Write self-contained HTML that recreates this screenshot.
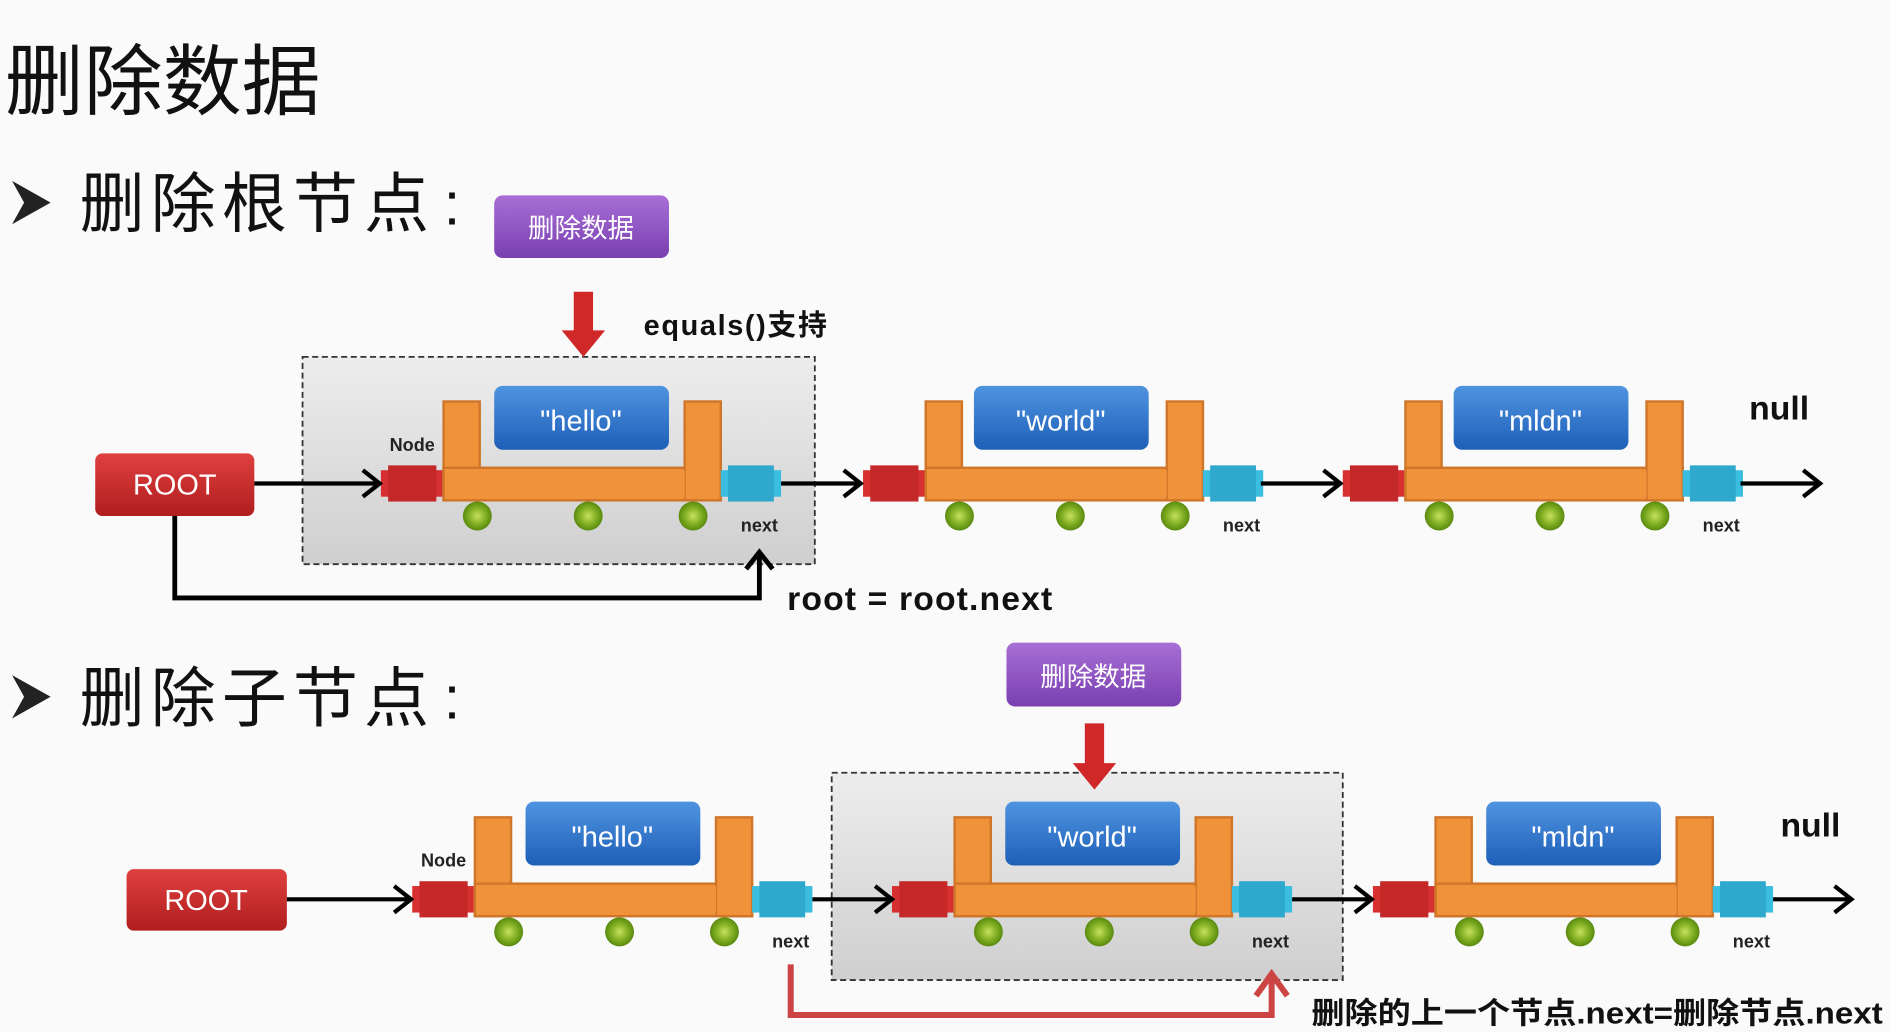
<!DOCTYPE html>
<html><head><meta charset="utf-8"><style>
html,body{margin:0;padding:0;background:#fafafa;}
svg{display:block;}
text{font-family:"Liberation Sans","Noto Sans CJK SC",sans-serif;}
</style></head><body>
<svg width="1890" height="1032" viewBox="0 0 1568 856" xmlns="http://www.w3.org/2000/svg">
<defs>
<linearGradient id="blue" x1="0" y1="0" x2="0" y2="1"><stop offset="0" stop-color="#4f94e0"/><stop offset="1" stop-color="#1e5fb8"/></linearGradient>
<linearGradient id="purp" x1="0" y1="0" x2="0" y2="1"><stop offset="0" stop-color="#a86fd6"/><stop offset="1" stop-color="#7a3fb0"/></linearGradient>
<linearGradient id="redb" x1="0" y1="0" x2="0" y2="1"><stop offset="0" stop-color="#e04040"/><stop offset="1" stop-color="#b01e1e"/></linearGradient>
<linearGradient id="gray" x1="0" y1="0" x2="0" y2="1"><stop offset="0" stop-color="#ededed"/><stop offset="1" stop-color="#cfcfcf"/></linearGradient>
<radialGradient id="ball"><stop offset="0" stop-color="#c8e060"/><stop offset="0.6" stop-color="#7fae22"/><stop offset="1" stop-color="#5a8a10"/></radialGradient>
<g id="node">
<rect x="316" y="390" width="52" height="22" fill="#d83030"/>
<rect x="322" y="386" width="40" height="30" fill="#c42828"/>
<rect x="368" y="333" width="30" height="82" fill="#f0923a" stroke="#d0762a" stroke-width="2"/>
<rect x="368" y="388" width="230" height="27" fill="#f0923a" stroke="#d0762a" stroke-width="2"/>
<rect x="568" y="333" width="30" height="82" fill="#f0923a" stroke="#d0762a" stroke-width="2"/>
<rect x="398" y="390" width="170" height="23" fill="#f0923a"/>
<rect x="598" y="390" width="50" height="22" fill="#3bbde0"/>
<rect x="604" y="386" width="38" height="30" fill="#2ea8cc"/>
<circle cx="396" cy="428" r="12" fill="url(#ball)"/>
<circle cx="488" cy="428" r="12" fill="url(#ball)"/>
<circle cx="575" cy="428" r="12" fill="url(#ball)"/>
<text x="630" y="441" font-size="15" font-weight="bold" text-anchor="middle" fill="#222">next</text>
</g>
<path id="ahd" d="M-14,-11 L0,0 L-14,11" fill="none" stroke="#000" stroke-width="3.5"/>
</defs>

<text x="4" y="90" font-size="64" fill="#111" textLength="262" lengthAdjust="spacingAndGlyphs">删除数据</text>
<path d="M10,150 L42,168 L10,186 L20,168z" fill="#222"/>
<text x="66" y="188" font-size="54" fill="#111" textLength="290">删除根节点</text>
<text x="368" y="186" font-size="50" fill="#111">:</text>
<path d="M10,560 L42,578 L10,596 L20,578z" fill="#222"/>
<text x="66" y="598" font-size="54" fill="#111" textLength="290">删除子节点</text>
<text x="368" y="596" font-size="50" fill="#111">:</text>

<!-- Row 1 -->
<rect x="251" y="296" width="425" height="172" fill="url(#gray)" stroke="#333" stroke-width="1.5" stroke-dasharray="5,3"/>
<rect x="410" y="162" width="145" height="52" rx="7" fill="url(#purp)"/>
<text x="482" y="197" font-size="22" fill="#fff" text-anchor="middle">删除数据</text>
<path d="M476,242 h16 v32 h10 l-18,22 l-18,-22 h10z" fill="#d02828"/>
<text x="534" y="278" font-size="24" font-weight="bold" fill="#111" textLength="152">equals()支持</text>
<rect x="79" y="376" width="132" height="52" rx="6" fill="url(#redb)"/>
<text x="145" y="410" font-size="24" fill="#fff" text-anchor="middle">ROOT</text>
<text x="342" y="374" font-size="15" font-weight="bold" text-anchor="middle" fill="#222">Node</text>
<use href="#node"/>
<use href="#node" transform="translate(400,0)"/>
<use href="#node" transform="translate(798,0)"/>
<g fill="url(#blue)">
<rect x="410" y="320" width="145" height="53" rx="7"/>
<rect x="808" y="320" width="145" height="53" rx="7"/>
<rect x="1206" y="320" width="145" height="53" rx="7"/>
</g>
<g font-size="24" fill="#fff" text-anchor="middle">
<text x="482" y="357">"hello"</text><text x="880" y="357">"world"</text><text x="1278" y="357">"mldn"</text>
</g>
<g stroke="#000" stroke-width="3.5" fill="none">
<line x1="211" y1="401" x2="314" y2="401"/>
<line x1="648" y1="401" x2="714" y2="401"/>
<line x1="1046" y1="401" x2="1112" y2="401"/>
<line x1="1444" y1="401" x2="1508" y2="401"/>
</g>
<use href="#ahd" transform="translate(315,401)"/>
<use href="#ahd" transform="translate(714,401)"/>
<use href="#ahd" transform="translate(1112,401)"/>
<use href="#ahd" transform="translate(1510,401)"/>
<text x="1476" y="348" font-size="28" font-weight="bold" text-anchor="middle" fill="#111">null</text>
<path d="M145,428 V496 H630 V460" fill="none" stroke="#000" stroke-width="4"/>
<path d="M619,472 L630,458 L641,472" fill="none" stroke="#000" stroke-width="4"/>
<text x="653" y="506" font-size="28" font-weight="bold" fill="#111" textLength="220">root = root.next</text>

<!-- Row 2 -->
<rect x="690" y="641" width="424" height="172" fill="url(#gray)" stroke="#333" stroke-width="1.5" stroke-dasharray="5,3"/>
<rect x="835" y="533" width="145" height="53" rx="7" fill="url(#purp)"/>
<text x="907" y="569" font-size="22" fill="#fff" text-anchor="middle">删除数据</text>
<path d="M900,600 h16 v33 h10 l-18,22 l-18,-22 h10z" fill="#d02828"/>
<rect x="105" y="721" width="133" height="51" rx="6" fill="url(#redb)"/>
<text x="171" y="755" font-size="24" fill="#fff" text-anchor="middle">ROOT</text>
<text x="368" y="719" font-size="15" font-weight="bold" text-anchor="middle" fill="#222">Node</text>
<use href="#node" transform="translate(26,345)"/>
<use href="#node" transform="translate(424,345)"/>
<use href="#node" transform="translate(823,345)"/>
<g fill="url(#blue)">
<rect x="436" y="665" width="145" height="53" rx="7"/>
<rect x="834" y="665" width="145" height="53" rx="7"/>
<rect x="1233" y="665" width="145" height="53" rx="7"/>
</g>
<g font-size="24" fill="#fff" text-anchor="middle">
<text x="508" y="702">"hello"</text><text x="906" y="702">"world"</text><text x="1305" y="702">"mldn"</text>
</g>
<g stroke="#000" stroke-width="3.5" fill="none">
<line x1="238" y1="746" x2="340" y2="746"/>
<line x1="674" y1="746" x2="738" y2="746"/>
<line x1="1072" y1="746" x2="1137" y2="746"/>
<line x1="1471" y1="746" x2="1534" y2="746"/>
</g>
<use href="#ahd" transform="translate(341,746)"/>
<use href="#ahd" transform="translate(740,746)"/>
<use href="#ahd" transform="translate(1138,746)"/>
<use href="#ahd" transform="translate(1536,746)"/>
<text x="1502" y="694" font-size="28" font-weight="bold" text-anchor="middle" fill="#111">null</text>
<path d="M656,800 V842 H1055 V812" fill="none" stroke="#cc4444" stroke-width="5"/>
<path d="M1042,826 L1055,808 L1068,826" fill="none" stroke="#cc4444" stroke-width="5"/>
<text x="1088" y="849" font-size="25" font-weight="bold" fill="#111" textLength="474" lengthAdjust="spacingAndGlyphs">删除的上一个节点.next=删除节点.next</text>
</svg>
</body></html>
